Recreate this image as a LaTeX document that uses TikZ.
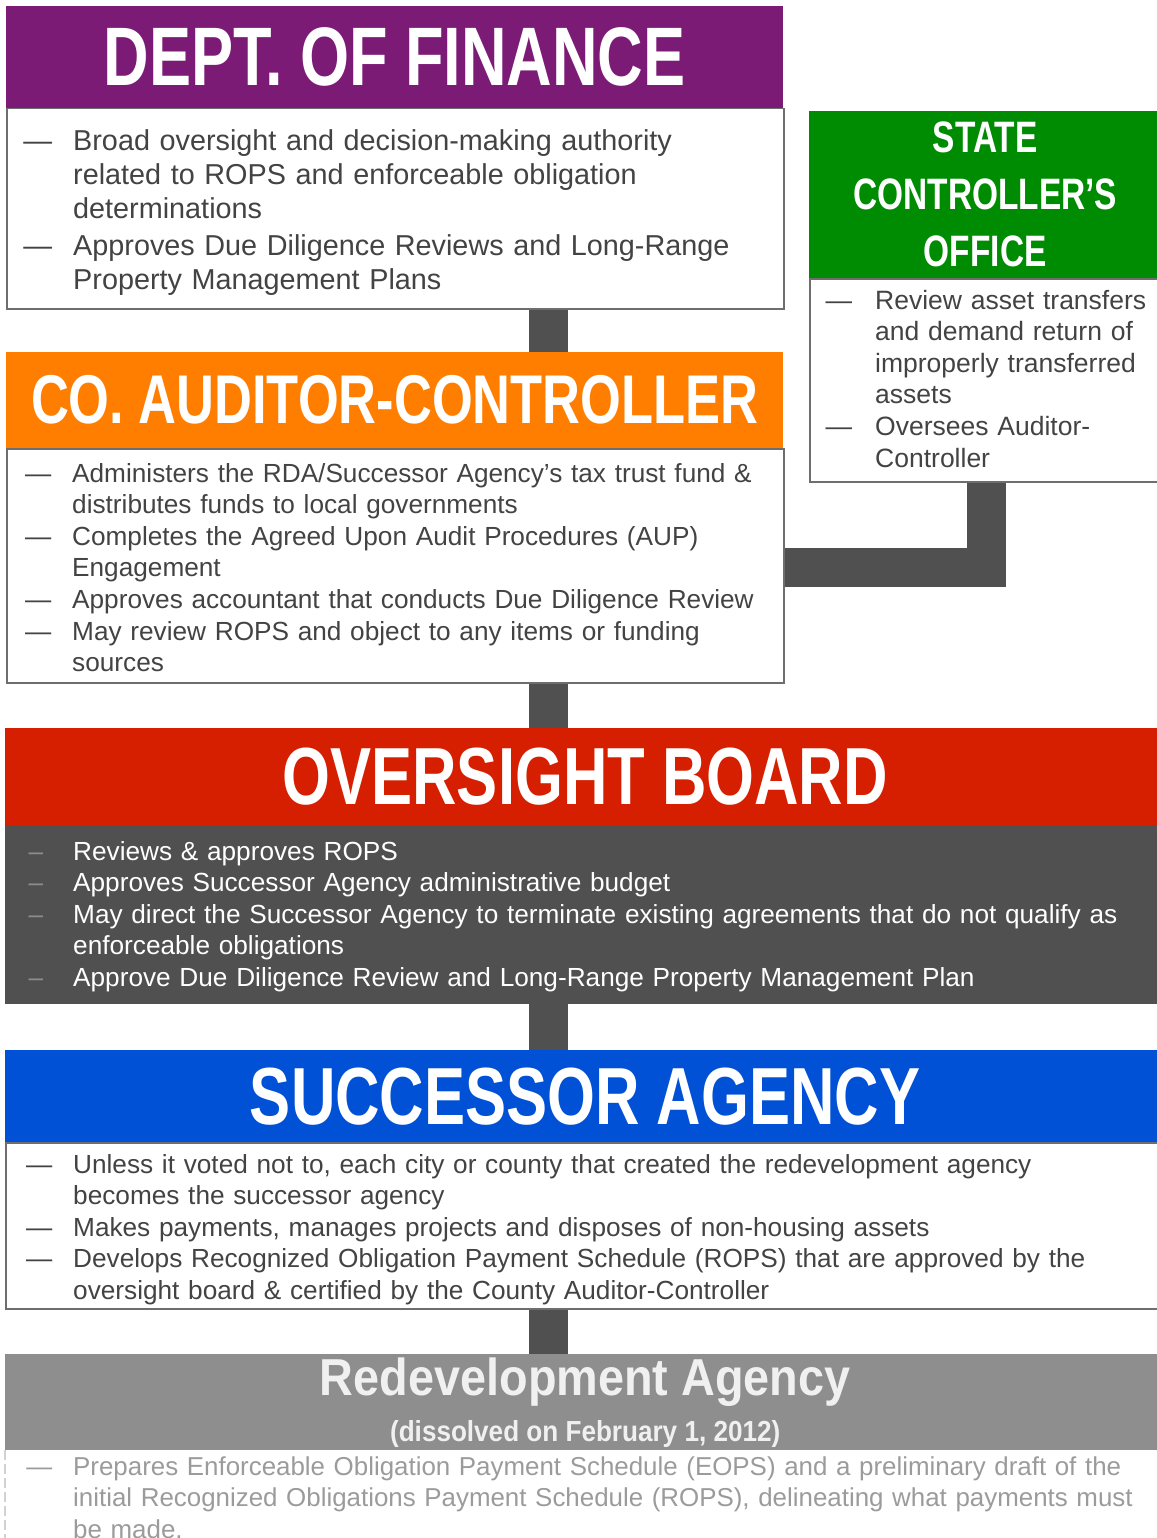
\documentclass[tikz,border=0pt]{standalone}
\usepackage{fontspec}
\setmainfont{Liberation Sans}
\newfontfamily\headfont{Liberation Sans}[FakeStretch=0.76]
\newfontfamily\subheadfont{Liberation Sans}[FakeStretch=0.9]
\usepackage{xcolor}
\usetikzlibrary{backgrounds}

\definecolor{finpurple}{HTML}{7B1B75}
\definecolor{audorange}{HTML}{FF7E00}
\definecolor{scgreen}{HTML}{008C02}
\definecolor{obred}{HTML}{D61F00}
\definecolor{sablue}{HTML}{0051D6}
\definecolor{rdagray}{HTML}{8E8E8E}
\definecolor{bargray}{HTML}{505050}
\definecolor{boxedge}{HTML}{6E6E6E}
\definecolor{bodytext}{HTML}{434343}
\definecolor{obdash}{HTML}{8C8C8C}
\definecolor{rdatext}{HTML}{9B9B9B}

% list entry: the dash hangs left of the text column
\newcommand{\itm}[1][—\hspace{21pt}]{\leavevmode\llap{#1}\ignorespaces}

\begin{document}
\begin{tikzpicture}[x=1pt, y=-1pt,
    hdr/.style={fill=#1, text=white, anchor=north west, inner sep=0pt, align=center},
    box/.style={draw=boxedge, line width=1.5pt, fill=white, anchor=north west, inner sep=0pt},
    items/.style={anchor=base west, inner sep=0pt, text width=1080pt, align=left,
        text=bodytext, font=\fontsize{26.2}{31.6}\selectfont},
    conn/.style={draw=bargray, line width=39pt}]

    \useasboundingbox (0,0) rectangle (1156,1538);

    % Dept. of Finance

    \node[hdr=finpurple, minimum width=777pt, minimum height=102pt,
        font=\headfont\bfseries\fontsize{83}{83}\selectfont] (finhead) at (6,6) {DEPT. OF FINANCE};
    \node[box, minimum width=777pt, minimum height=200pt] (finbody) at (6,108) {};
    \node[items, font=\fontsize{28.8}{34}\selectfont] (fintext) at (73,151) {%
        \itm Broad oversight and decision-making authority\\
        related to ROPS and enforceable obligation\\
        determinations\\[2.5pt]
        \itm Approves Due Diligence Reviews and Long-Range\\
        Property Management Plans};

    % County Auditor-Controller

    \node[hdr=audorange, minimum width=777pt, minimum height=96pt,
        font=\headfont\bfseries\fontsize{69}{69}\selectfont] (audhead) at (6,352) {CO. AUDITOR-CONTROLLER};
    \node[box, minimum width=777pt, minimum height=234pt] (audbody) at (6,448) {};
    \node[items] (audtext) at (72,482) {%
        \itm Administers the RDA/Successor Agency’s tax trust fund \&\\
        distributes funds to local governments\\
        \itm Completes the Agreed Upon Audit Procedures (AUP)\\
        Engagement\\
        \itm Approves accountant that conducts Due Diligence Review\\
        \itm May review ROPS and object to any items or funding\\
        sources};

    % State Controller's Office

    \node[hdr=scgreen, minimum width=352pt, minimum height=167pt,
        font=\headfont\bfseries\fontsize{44}{57}\selectfont] (schead) at (809,111) {STATE\\CONTROLLER’S\\OFFICE};
    \node[box, minimum width=352pt, minimum height=203pt] (scbody) at (809,278) {};
    \node[items, text width=300pt, font=\fontsize{26.5}{31.6}\selectfont] (sctext) at (875,309) {%
        \itm[—\hspace{23pt}] Review asset transfers\\
        and demand return of\\
        improperly transferred\\
        assets\\
        \itm[—\hspace{23pt}] Oversees Auditor-\\
        Controller};

    % Oversight Board

    \node[hdr=obred, minimum width=1160pt, minimum height=97pt,
        font=\headfont\bfseries\fontsize{81}{81}\selectfont] (obhead) at (5,728) {OVERSIGHT BOARD};
    \node[fill=bargray, anchor=north west, minimum width=1160pt, minimum height=179pt] (obbody) at (5,825) {};
    \node[items, text=white] (obtext) at (73,860) {%
        \itm[\textcolor{obdash}{–}\hspace{30pt}] Reviews \& approves ROPS\\
        \itm[\textcolor{obdash}{–}\hspace{30pt}] Approves Successor Agency administrative budget\\
        \itm[\textcolor{obdash}{–}\hspace{30pt}] May direct the Successor Agency to terminate existing agreements that do not qualify as\\
        enforceable obligations\\
        \itm[\textcolor{obdash}{–}\hspace{30pt}] Approve Due Diligence Review and Long-Range Property Management Plan};

    % Successor Agency

    \node[hdr=sablue, minimum width=1160pt, minimum height=92pt,
        font=\headfont\bfseries\fontsize{81}{81}\selectfont] (sahead) at (5,1050) {SUCCESSOR AGENCY};
    \node[box, minimum width=1160pt, minimum height=166pt] (sabody) at (5,1142) {};
    \node[items] (satext) at (73,1173) {%
        \itm Unless it voted not to, each city or county that created the redevelopment agency\\
        becomes the successor agency\\
        \itm Makes payments, manages projects and disposes of non-housing assets\\
        \itm Develops Recognized Obligation Payment Schedule (ROPS) that are approved by the\\
        oversight board \& certified by the County Auditor-Controller};

    % Redevelopment Agency

    \node[hdr=rdagray, text=white!94!black, minimum width=1160pt, minimum height=96pt,
        font=\subheadfont\bfseries\fontsize{52}{52}\selectfont] (rdahead) at (5,1354)
        {Redevelopment Agency\\[-6pt]{\fontsize{29}{29}\selectfont(dissolved on February 1, 2012)}};
    \draw[rdagray!40, line width=1.5pt, dash pattern=on 10pt off 4pt] (rdahead.south west) -- (5,1538);
    \node[items, text=rdatext, font=\fontsize{25.9}{31.6}\selectfont] (rdatext) at (73,1475) {%
        \itm Prepares Enforceable Obligation Payment Schedule (EOPS) and a preliminary draft of the\\
        initial Recognized Obligations Payment Schedule (ROPS), delineating what payments must\\
        be made.};

    % Connectors

    \begin{scope}[on background layer]
        \coordinate (spine) at (548.5,0);
        \coordinate (scdrop) at (986,567);
        \draw[conn] (finbody.south -| spine) -- (audhead.north -| spine);
        \draw[conn] (audbody.south -| spine) -- (obhead.north -| spine);
        \draw[conn] (obbody.south -| spine) -- (sahead.north -| spine);
        \draw[conn] (sabody.south -| spine) -- (rdahead.north -| spine);
        \draw[conn] (scbody.south -| scdrop) |- (audbody.east |- scdrop);
    \end{scope}

\end{tikzpicture}
\end{document}
